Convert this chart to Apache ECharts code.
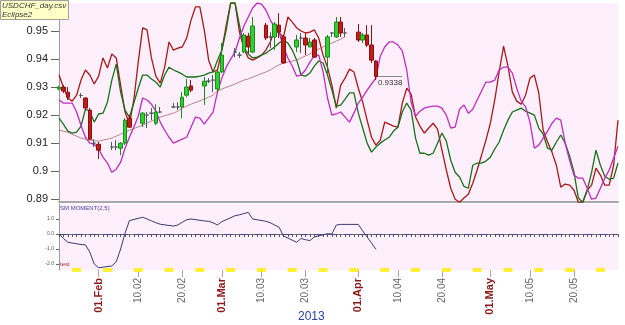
<!DOCTYPE html>
<html>
<head>
<meta charset="utf-8">
<script src="https://cdn.jsdelivr.net/npm/echarts@6/dist/echarts.min.js"></script>
<style>
  html, body { margin: 0; padding: 0; background: #fff; }
  #chart { width: 625px; height: 325px; }
</style>
</head>
<body>
<div id="chart"></div>
<script>
// calendar days shown on the x axis (23 Jan - 30 May 2013)
const days = []
const start = Date.UTC(2013, 0, 23)
for (let i = 0; i < 128; i++) {
  days.push(new Date(start + i * 86400000).toISOString().slice(0, 10))
}
const weekday = d => new Date(d + 'T00:00:00Z').getUTCDay()
const tradeDays = days.filter(d => weekday(d) > 0 && weekday(d) < 6 && d <= '2013-04-05')
const sundays = days.filter(d => weekday(d) === 0)

const monthNames = ['Jan', 'Feb', 'Mar', 'Apr', 'May', 'Jun']
const yTicks = [0.89, 0.9, 0.91, 0.92, 0.93, 0.94, 0.95]
const momTicks = [1, 0, -1, -2]

// daily candles, one per trade day
const opens = [0.9293, 0.9300, 0.9282, 0.9270, 0.9261, 0.9218, 0.9100, 0.9096,
  0.9086, 0.9086, 0.9082, 0.9100, 0.9189, 0.9171, 0.9200, 0.9207, 0.9171, 0.9211,
  0.9229, 0.9229, 0.9229, 0.9271, 0.9304, 0.9304, 0.9321, 0.9325, 0.9293, 0.9354,
  0.9425, 0.9414, 0.9425, 0.9482, 0.9425, 0.9521, 0.9479, 0.9479, 0.9521, 0.9479,
  0.9443, 0.9475, 0.9475, 0.9443, 0.9468, 0.9407, 0.9493, 0.9479, 0.9532, 0.9493,
  0.9496, 0.9468, 0.9486, 0.9450, 0.9393]
const closes = [0.9300, 0.9286, 0.9264, 0.9270, 0.9225, 0.9114, 0.9100, 0.9075,
  0.9086, 0.9086, 0.9100, 0.9182, 0.9157, 0.9207, 0.9200, 0.9207, 0.9211, 0.9211,
  0.9229, 0.9229, 0.9264, 0.9300, 0.9289, 0.9321, 0.9321, 0.9325, 0.9354, 0.9414,
  0.9425, 0.9414, 0.9486, 0.9443, 0.9518, 0.9475, 0.9479, 0.9525, 0.9496, 0.9386,
  0.9468, 0.9475, 0.9450, 0.9461, 0.9407, 0.9479, 0.9493, 0.9532, 0.9493, 0.9493,
  0.9468, 0.9486, 0.9450, 0.9396, 0.9338]
const lows = [0.9289, 0.9279, 0.9254, 0.9261, 0.9218, 0.9111, 0.9086, 0.9043,
  0.9075, 0.9075, 0.9057, 0.9093, 0.9154, 0.9157, 0.9154, 0.9182, 0.9164, 0.9207,
  0.9225, 0.9218, 0.9189, 0.9264, 0.9282, 0.9236, 0.9314, 0.9282, 0.9282, 0.9350,
  0.9407, 0.9404, 0.9421, 0.9421, 0.9421, 0.9468, 0.9439, 0.9432, 0.9475, 0.9384,
  0.9425, 0.9421, 0.9414, 0.9443, 0.9404, 0.9350, 0.9479, 0.9475, 0.9479, 0.9479,
  0.9461, 0.9457, 0.9443, 0.9386, 0.9325]
const highs = [0.9304, 0.9307, 0.9300, 0.9279, 0.9264, 0.9225, 0.9114, 0.9104,
  0.9104, 0.9111, 0.9104, 0.9189, 0.9200, 0.9211, 0.9211, 0.9225, 0.9239, 0.9229,
  0.9243, 0.9246, 0.9282, 0.9329, 0.9325, 0.9336, 0.9332, 0.9343, 0.9361, 0.9457,
  0.9439, 0.9425, 0.9493, 0.9493, 0.9550, 0.9529, 0.9496, 0.9532, 0.9564, 0.9486,
  0.9486, 0.9493, 0.9493, 0.9475, 0.9475, 0.9486, 0.9496, 0.9550, 0.9550, 0.9511,
  0.9525, 0.9493, 0.9521, 0.9521, 0.9396]

// thin moving average, trade days up to 29 Mar
const movingAvg = [0.9146, 0.9143, 0.9139, 0.9118, 0.9114, 0.9111, 0.9109, 0.9107,
  0.9118, 0.9125, 0.9132, 0.9139, 0.9146, 0.9164, 0.9171, 0.9179, 0.9186, 0.9193,
  0.9207, 0.9214, 0.9225, 0.9232, 0.9239, 0.9257, 0.9264, 0.9271, 0.9286, 0.9293,
  0.9311, 0.9318, 0.9325, 0.9329, 0.9336, 0.9354, 0.9361, 0.9371, 0.9379, 0.9386,
  0.9396, 0.9404, 0.9411, 0.9418, 0.9429, 0.9450, 0.9457, 0.9464, 0.9471, 0.9479]

// SM MOMENT(2,5), trade days
const momentum = [0, -0.3, -0.55, -0.7, -0.72, -1.2, -2.0, -2.25,
  -2.13, -1.85, -1.0, 0.05, 0.89, 1.12, 1.0, 0.88, 0.75, 0.65,
  0.53, 0.6, 0.78, 0.95, 1.0, 0.87, 0.85, 0.75, 0.6, 0.82,
  1.22, 1.28, 1.36, 1.44, 1.0, 0.85, 0.75, 0.6, 0.45, -0.13,
  -0.55, -0.3, -0.38, -0.44, -0.2, 0.02, 0, 0.6, 0.64, 0.64,
  0.64, 0.2, -0.2, -0.6, -1.02]

// Eclipse2 lines, one value per calendar day
const redLine = [0.9343, 0.9300, 0.9261, 0.9250, 0.9271, 0.9325, 0.9361, 0.9343, 0.9311, 0.9339,
  0.9404, 0.9368, 0.9418, 0.9404, 0.9307, 0.9211, 0.9168, 0.9254, 0.9389, 0.9511,
  0.9504, 0.9404, 0.9339, 0.9314, 0.9371, 0.9461, 0.9432, 0.9439, 0.9443, 0.9475,
  0.9539, 0.9586, 0.9586, 0.9504, 0.9396, 0.9354, 0.9361, 0.9432, 0.9521, 0.9600,
  0.9600, 0.9496, 0.9439, 0.9404, 0.9396, 0.9404, 0.9414, 0.9432, 0.9461, 0.9504,
  0.9493, 0.9479, 0.9550, 0.9532, 0.9511, 0.9500, 0.9493, 0.9496, 0.9504, 0.9475,
  0.9414, 0.9371, 0.9307, 0.9225, 0.9307, 0.9332, 0.9364, 0.9354, 0.9296, 0.9246,
  0.9182, 0.9121, 0.9093, 0.9111, 0.9175, 0.9168, 0.9161, 0.9157, 0.9243, 0.9296,
  0.9275, 0.9193, 0.9161, 0.9136, 0.9154, 0.9171, 0.9150, 0.9075, 0.9004, 0.8939,
  0.8900, 0.8889, 0.8904, 0.8918, 0.8957, 0.9004, 0.9057, 0.9111, 0.9171, 0.9254,
  0.9354, 0.9446, 0.9375, 0.9282, 0.9250, 0.9239, 0.9271, 0.9332, 0.9343, 0.9279,
  0.9146, 0.9104, 0.9068, 0.9021, 0.8943, 0.8954, 0.8950, 0.8932, 0.8889, 0.8889,
  0.8932, 0.8950, 0.9011, 0.8986, 0.8950, 0.8950, 0.9021, 0.9182]
const greenLine = [0.9189, 0.9168, 0.9143, 0.9136, 0.9139, 0.9161, 0.9221, 0.9214, 0.9175, 0.9204,
  0.9207, 0.9246, 0.9325, 0.9382, 0.9282, 0.9218, 0.9193, 0.9243, 0.9296, 0.9343,
  0.9343, 0.9329, 0.9318, 0.9300, 0.9343, 0.9371, 0.9361, 0.9354, 0.9346, 0.9336,
  0.9336, 0.9336, 0.9339, 0.9343, 0.9350, 0.9354, 0.9396, 0.9432, 0.9504, 0.9600,
  0.9600, 0.9521, 0.9443, 0.9418, 0.9404, 0.9407, 0.9414, 0.9421, 0.9432, 0.9443,
  0.9457, 0.9468, 0.9457, 0.9432, 0.9396, 0.9343, 0.9339, 0.9350, 0.9375, 0.9393,
  0.9386, 0.9343, 0.9289, 0.9232, 0.9236, 0.9257, 0.9279, 0.9279, 0.9207, 0.9154,
  0.9100, 0.9068, 0.9086, 0.9100, 0.9111, 0.9121, 0.9143, 0.9157, 0.9211, 0.9243,
  0.9218, 0.9118, 0.9064, 0.9064, 0.9057, 0.9064, 0.9100, 0.9136, 0.9107, 0.9039,
  0.8996, 0.8979, 0.8946, 0.8939, 0.9021, 0.9029, 0.9029, 0.9036, 0.9050, 0.9079,
  0.9104, 0.9146, 0.9182, 0.9211, 0.9218, 0.9225, 0.9214, 0.9207, 0.9200, 0.9154,
  0.9132, 0.9082, 0.9075, 0.9104, 0.9129, 0.9100, 0.9054, 0.8996, 0.8904, 0.8889,
  0.8932, 0.8996, 0.9075, 0.9021, 0.8982, 0.8971, 0.8975, 0.9029]
const magentaLine = [0.9254, 0.9243, 0.9243, 0.9243, 0.9211, 0.9164, 0.9121, 0.9100, 0.9096, 0.9079,
  0.9050, 0.9029, 0.8996, 0.9007, 0.9032, 0.9082, 0.9121, 0.9157, 0.9196, 0.9261,
  0.9254, 0.9239, 0.9214, 0.9175, 0.9146, 0.9121, 0.9100, 0.9107, 0.9114, 0.9121,
  0.9157, 0.9193, 0.9189, 0.9168, 0.9189, 0.9211, 0.9282, 0.9332, 0.9371, 0.9400,
  0.9425, 0.9475, 0.9518, 0.9550, 0.9582, 0.9600, 0.9596, 0.9575, 0.9539, 0.9514,
  0.9496, 0.9443, 0.9404, 0.9375, 0.9339, 0.9343, 0.9361, 0.9389, 0.9411, 0.9414,
  0.9354, 0.9261, 0.9200, 0.9204, 0.9211, 0.9193, 0.9175, 0.9207, 0.9243, 0.9264,
  0.9289, 0.9311, 0.9332, 0.9411, 0.9443, 0.9461, 0.9461, 0.9450, 0.9429, 0.9361,
  0.9246, 0.9196, 0.9214, 0.9225, 0.9229, 0.9232, 0.9232, 0.9225, 0.9200, 0.9154,
  0.9157, 0.9221, 0.9236, 0.9207, 0.9221, 0.9254, 0.9286, 0.9318, 0.9318, 0.9325,
  0.9361, 0.9371, 0.9371, 0.9350, 0.9296, 0.9250, 0.9229, 0.9175, 0.9082, 0.9093,
  0.9118, 0.9143, 0.9171, 0.9189, 0.9182, 0.9100, 0.9039, 0.8986, 0.8975, 0.8975,
  0.8939, 0.8900, 0.8904, 0.8939, 0.8975, 0.9004, 0.9046, 0.9089]

const candles = tradeDays.map((d, i) => [d, opens[i], closes[i], lows[i], highs[i]])
const lastClose = closes[closes.length - 1]
const font = 'Liberation Sans'
const isLabelDay = (idx, val) => ['01', '10', '20'].includes(String(val).slice(8))

const chart = echarts.init(document.getElementById('chart'))
chart.setOption({
  animation: false,
  textStyle: { fontFamily: font },
  title: [{
    text: 'USDCHF_day.csv\nEclipse2',
    left: 0,
    top: 0,
    padding: [1, 2, 1, 2],
    backgroundColor: '#ffffc8',
    borderColor: '#a0a0a0',
    borderWidth: 1,
    textStyle: { fontSize: 8, fontStyle: 'italic', fontWeight: 'normal', color: '#333', lineHeight: 9, fontFamily: font }
  }, {
    text: 'SM MOMENT(2,5)',
    left: 59,
    top: 204,
    padding: 1,
    textStyle: { fontSize: 6, fontWeight: 'normal', color: '#4646a0', fontFamily: font }
  }, {
    text: 'test',
    left: 60,
    top: 261,
    padding: 0,
    textStyle: { fontSize: 6, fontWeight: 'normal', color: '#b03030', fontFamily: font }
  }, {
    text: '2013',
    left: 298,
    top: 311,
    padding: 0,
    textStyle: { fontSize: 12, fontWeight: 'normal', color: '#2a40a0', fontFamily: font }
  }],
  grid: [
    { left: 59, right: 7, top: 3, height: 199, show: true, backgroundColor: '#fdf0fc', borderWidth: 0 },
    { left: 59, right: 7, top: 204, height: 66, show: true, backgroundColor: '#fdf0fc', borderWidth: 0 }
  ],
  xAxis: [{
    type: 'category',
    gridIndex: 0,
    data: days,
    boundaryGap: false,
    axisLine: { show: true, lineStyle: { color: '#a8a8a8', width: 2 } },
    axisTick: { show: false },
    axisLabel: { show: false }
  }, {
    type: 'category',
    gridIndex: 1,
    position: 'bottom',
    data: days,
    boundaryGap: false,
    axisLine: { show: true, lineStyle: { color: '#777', width: 1 } },
    axisTick: { show: true, interval: 0, length: 3, lineStyle: { color: '#555' } },
    axisLabel: { show: false }
  }, {
    type: 'category',
    gridIndex: 1,
    position: 'bottom',
    offset: 0,
    data: days,
    boundaryGap: false,
    axisLine: { show: false },
    axisTick: { show: true, interval: isLabelDay, length: 7, lineStyle: { color: '#c89898' } },
    axisLabel: {
      interval: isLabelDay,
      rotate: 90,
      margin: 8,
      formatter: v => {
        const mm = v.slice(5, 7)
        const dd = v.slice(8, 10)
        if (dd === '01') return '{m|01.' + monthNames[+mm - 1] + '}'
        return '{d|' + dd + '.' + mm + '}'
      },
      rich: {
        m: { color: '#8b1a1a', fontWeight: 'bold', fontSize: 11, fontFamily: font },
        d: { color: '#666', fontSize: 10, fontFamily: font }
      }
    }
  }],
  yAxis: [{
    type: 'value',
    gridIndex: 0,
    min: 0.889,
    max: 0.96,
    splitLine: { show: false },
    axisLine: { show: true, lineStyle: { color: '#999' } },
    axisTick: { show: true, customValues: yTicks, length: 8, lineStyle: { color: '#666' } },
    axisLabel: {
      customValues: yTicks,
      margin: 11,
      color: '#222',
      fontSize: 11,
      formatter: v => String(+v.toFixed(2))
    }
  }, {
    type: 'value',
    gridIndex: 1,
    min: -2.4,
    max: 2,
    splitLine: { show: false },
    axisLine: { show: true, lineStyle: { color: '#999' } },
    axisTick: { show: true, customValues: momTicks, length: 3, lineStyle: { color: '#666' } },
    axisLabel: {
      customValues: momTicks,
      margin: 5,
      color: '#555',
      fontSize: 5,
      formatter: v => v.toFixed(1)
    }
  }],
  series: [{
    name: 'red',
    type: 'line',
    data: redLine,
    symbol: 'none',
    lineStyle: { color: '#a81818', width: 1.3 },
    z: 3
  }, {
    name: 'green',
    type: 'line',
    data: greenLine,
    symbol: 'none',
    lineStyle: { color: '#17701a', width: 1.3 },
    z: 3
  }, {
    name: 'magenta',
    type: 'line',
    data: magentaLine,
    symbol: 'none',
    lineStyle: { color: '#c02cc0', width: 1.3 },
    z: 3
  }, {
    name: 'avg',
    type: 'line',
    data: movingAvg.map((v, i) => [tradeDays[i], v]),
    symbol: 'none',
    lineStyle: { color: '#a86868', width: 0.8 },
    z: 4
  }, {
    name: 'USDCHF',
    type: 'candlestick',
    dimensions: ['date', 'open', 'close', 'lowest', 'highest'],
    encode: { x: 0, y: [1, 2, 3, 4] },
    data: candles,
    barWidth: 4,
    itemStyle: {
      color: '#2fd02f',
      color0: '#c01c1c',
      borderColor: '#1c8a1c',
      borderColor0: '#8c1010',
      borderColorDoji: '#4a5a5a',
      borderWidth: 1
    },
    markLine: {
      silent: true,
      symbol: 'none',
      lineStyle: { color: '#888', width: 1, type: 'solid' },
      label: { formatter: String(lastClose), position: 'insideStartBottom', fontSize: 8, color: '#333', distance: 2 },
      data: [[{ coord: [tradeDays[tradeDays.length - 1], lastClose] }, { coord: ['2013-04-11', lastClose] }]]
    },
    z: 5
  }, {
    name: 'weekend',
    type: 'scatter',
    xAxisIndex: 1,
    yAxisIndex: 1,
    data: sundays.map(d => [d, -2.4]),
    symbol: 'rect',
    symbolSize: [9, 4],
    itemStyle: { color: '#ffee00' },
    clip: false,
    silent: true,
    z: 1
  }, {
    name: 'SM MOMENT(2,5)',
    type: 'line',
    xAxisIndex: 1,
    yAxisIndex: 1,
    data: momentum.map((v, i) => [tradeDays[i], v]),
    symbol: 'none',
    lineStyle: { color: '#3a3a72', width: 1 },
    markLine: {
      silent: true,
      symbol: 'none',
      label: { show: false },
      lineStyle: { color: '#4a4a86', width: 1, type: [9, 6] },
      data: [{ yAxis: 0 }]
    }
  }]
})
</script>
</body>
</html>
